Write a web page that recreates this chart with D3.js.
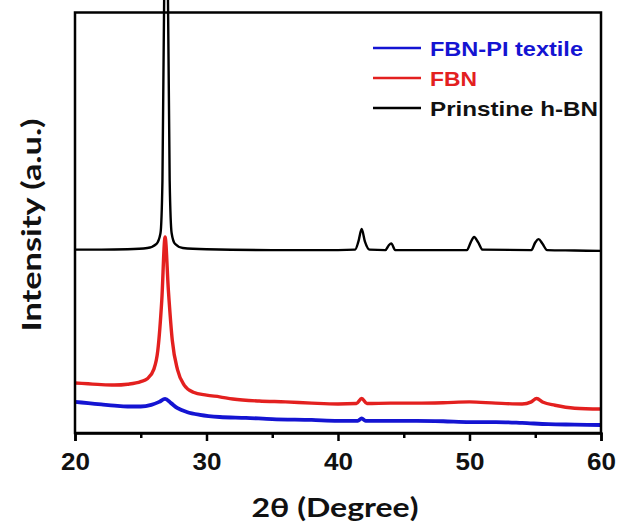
<!DOCTYPE html>
<html><head><meta charset="utf-8">
<script src="https://cdn.jsdelivr.net/npm/d3@7"></script>
<style>html,body{margin:0;padding:0;background:#fff;}svg{display:block;}</style>
</head><body>
<svg id="chart" width="617" height="525"></svg>
<script>
// ---- data (2θ in degrees, intensity in a.u.) ----
const seriesNames = ["FBN-PI textile", "FBN", "Prinstine h-BN"];
const seriesColors = ["#1414d2", "#e3201f", "#000000"];

const hbnTheta = [20,22,24,25.5,26.2,26.5,26.65,26.8,26.85,27.0,27.05,27.2,27.35,27.6,28.2,30,35,40,41.3,41.55,41.8,42.05,42.4,43.6,43.85,44.05,44.35,49.8,50.1,50.35,50.65,51.0,54.7,55.0,55.25,55.55,55.9,58,60];
const hbnInt   = [43.6,43.6,43.7,44.0,45.0,47.5,60,110,140,140,110,60,47.5,45.0,44.0,43.7,43.5,43.5,43.6,45.5,48.5,45.5,43.6,43.5,44.6,45.1,43.5,43.5,45.4,46.6,45.4,43.6,43.5,45.3,46.1,45.0,43.5,43.4,43.3];

const fbnTheta = [20,21,22,23,24,25,25.5,26,26.3,26.6,26.85,27.1,27.4,27.8,28.3,29,30,31,32,34,36,38,40,41.4,41.8,42.2,44,46,48,50,52,54,54.7,55.1,55.6,56.5,58,60];
const fbnInt   = [11.9,11.7,11.5,11.4,11.6,12.2,12.9,15.2,19.7,31.6,46.6,34.0,22.0,15.0,11.4,9.7,9.0,8.6,8.1,7.6,7.4,7.1,6.9,7.0,8.2,7.0,7.1,7.1,7.2,7.4,7.1,6.9,7.4,8.2,7.3,6.6,5.9,5.7];

const pitTheta = [20,21,22,23,24,25,25.8,26.4,26.85,27.3,27.8,28.5,29.5,31,33,35,38,40,41.5,41.8,42.1,44,46,48,50,52,54,56,58,60];
const pitInt   = [7.4,7.1,6.8,6.5,6.3,6.3,6.7,7.4,8.1,7.1,5.9,5.0,4.3,3.8,3.6,3.3,3.1,2.9,2.9,3.5,2.9,2.9,2.9,2.8,2.6,2.6,2.4,2.1,2.0,1.9];

const xTicks = [20,30,40,50,60];
const xMinorTicks = [25,35,45,55];
const xDomain = [20,60];
const yDomain = [0,100];

// ---- layout ----
const L = 75, R = 601, T = 12.5, B = 433;
const svg = d3.select("#chart");
const x = d3.scaleLinear().domain(xDomain).range([L, R]);
const y = d3.scaleLinear().domain(yDomain).range([B, T]);

const series = [
  {name: seriesNames[0], color: seriesColors[0], th: pitTheta, v: pitInt, w: 3.8},
  {name: seriesNames[1], color: seriesColors[1], th: fbnTheta, v: fbnInt, w: 3.4},
  {name: seriesNames[2], color: seriesColors[2], th: hbnTheta, v: hbnInt, w: 2.4}
];

const line = d3.line().x(d => x(d[0])).y(d => y(d[1])).curve(d3.curveMonotoneX);

// draw black first, then red, then blue
[2,1,0].forEach(i => {
  const s = series[i];
  const pts = s.th.map((t, k) => [t, s.v[k]]);
  svg.append("path").datum(pts)
    .attr("d", line)
    .attr("fill", "none")
    .attr("stroke", s.color)
    .attr("stroke-width", s.w)
    .attr("stroke-linejoin", "round");
});

// frame
svg.append("rect").attr("x", L).attr("y", T).attr("width", R - L).attr("height", B - T)
  .attr("fill", "none").attr("stroke", "#000").attr("stroke-width", 2.5);

// x axis
const xAxis = svg.append("g").attr("transform", `translate(0,${B})`)
  .call(d3.axisBottom(x).tickValues(xTicks).tickSize(8).tickPadding(13).tickFormat(d3.format("d")));
xAxis.select(".domain").attr("stroke-width", 2.5);
xAxis.selectAll(".tick line").attr("stroke-width", 2.5);
xAxis.selectAll(".tick text")
  .attr("font-family", "'Liberation Sans', Arial, sans-serif")
  .attr("font-weight", "bold").attr("font-size", 23).attr("fill", "#111")
  .attr("textLength", 29).attr("lengthAdjust", "spacingAndGlyphs");

const minor = svg.append("g").attr("transform", `translate(0,${B})`)
  .call(d3.axisBottom(x).tickValues(xMinorTicks).tickSize(5).tickFormat(""));
minor.select(".domain").remove();
minor.selectAll(".tick line").attr("stroke-width", 2.5);

// axis titles
svg.append("text").attr("x", (L + R) / 2 - 3).attr("y", 517)
  .attr("text-anchor", "middle")
  .attr("font-family", "Lato, 'Open Sans', sans-serif").attr("font-weight", "bold")
  .attr("font-size", 26).attr("fill", "#111")
  .attr("textLength", 167).attr("lengthAdjust", "spacingAndGlyphs")
  .text("2θ (Degree)");

svg.append("text").attr("transform", `translate(41,225) rotate(-90)`)
  .attr("text-anchor", "middle")
  .attr("font-family", "Lato, 'Open Sans', sans-serif").attr("font-weight", "bold")
  .attr("font-size", 26).attr("fill", "#111")
  .attr("textLength", 213).attr("lengthAdjust", "spacingAndGlyphs")
  .text("Intensity (a.u.)");

// legend
const legendY = [48, 78, 108];
const legendWidths = [153, 47, 168];
series.forEach((s, i) => {
  const g = svg.append("g").attr("transform", `translate(373,${legendY[i]})`);
  g.append("line").attr("x1", 0).attr("x2", 48).attr("y1", 0).attr("y2", 0)
    .attr("stroke", s.color).attr("stroke-width", 2.5);
  g.append("text").attr("x", 57).attr("y", 8)
    .attr("font-family", "'Liberation Sans', Arial, sans-serif").attr("font-weight", "bold")
    .attr("font-size", 21).attr("fill", s.color === "#000000" ? "#111" : s.color)
    .attr("textLength", legendWidths[i]).attr("lengthAdjust", "spacingAndGlyphs")
    .text(s.name);
});
</script>
</body></html>
